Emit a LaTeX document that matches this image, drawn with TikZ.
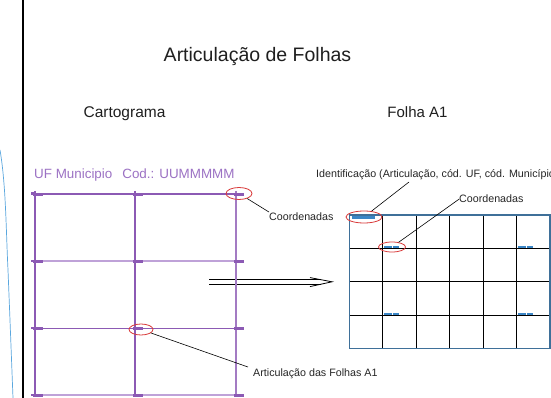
\documentclass[tikz,border=0pt]{standalone}
\usepackage{fontspec}
\setmainfont{Liberation Sans}
\usetikzlibrary{shapes.geometric}
\definecolor{purp}{HTML}{8C5AB4}
\definecolor{lpurp}{HTML}{BFA2D8}
\definecolor{ptext}{HTML}{9C72C4}
\definecolor{fblue}{HTML}{3F7099}
\definecolor{mblue}{HTML}{3B86C6}
\definecolor{ered}{HTML}{D93A3A}
\definecolor{curveblue}{HTML}{5AA7DE}
\begin{document}
\begin{tikzpicture}[x=1pt,y=-1pt,
  lbl/.style={inner sep=0pt, anchor=base west, font=\fontsize{10.7}{12}\selectfont, text=black!85},
  head/.style={inner sep=0pt, anchor=base, text=black!88},
  ring/.style={draw=ered, ellipse, line width=0.8pt, inner sep=0pt},
  leader/.style={draw=black, line width=0.6pt},
  pmark/.style={fill=purp},
  bmark/.style={fill=mblue},
  inner/.style={draw=black, line width=1pt}]
\useasboundingbox (0,0) rectangle (551,398);
\fill[white] (0,0) rectangle (551,398);
% left decorations
\draw[curveblue, line width=0.7pt] (0,150) .. controls (6,185) and (6,230) .. (8,270) .. controls (10,320) .. (13,398);
\draw[line width=1.3pt] (23,0) -- (23,398);
% headings
\node[head, font=\fontsize{19.5}{22}\selectfont] (title) at (257.5,61.7) {Articulação de Folhas};
\node[head, font=\fontsize{15.5}{18}\selectfont] (carto) at (124.5,117.3) {Cartograma};
\node[head, font=\fontsize{15}{18}\selectfont] (folha) at (417.5,117.3) {Folha A1};
\node[inner sep=0pt, anchor=base west, font=\fontsize{13.4}{16}\selectfont, text=ptext] (uf) at (34,178.3) {UF Municipio\hspace{10pt}Cod.: UUMMMMM};
% double arrow
\coordinate (a1s) at (209,279.6);
\coordinate (a1e) at (320.5,279.6);
\coordinate (a2s) at (209,283.9);
\coordinate (a2e) at (320.5,283.9);
\coordinate (bU) at (310,277.6);
\coordinate (tip) at (332,281.8);
\coordinate (bL) at (310,286.6);
\draw[line width=0.8pt] (a1s) -- (a1e);
\draw[line width=0.8pt] (a2s) -- (a2e);
\draw[line width=0.8pt] (bU) -- (tip) -- (bL);
% cartograma grid
\draw[purp, line width=1.2pt] (35,191) -- (35,397);
\draw[purp, line width=1.2pt] (135,191) -- (135,397);
\draw[purp!80, line width=1.2pt] (236,191) -- (236,397);
\draw[purp, line width=1.2pt] (32,194) -- (241,194);
\draw[lpurp, line width=2pt] (32,261) -- (241,261);
\draw[purp, line width=1pt] (32,328) -- (241,328);
\draw[lpurp, line width=2pt] (32,395) -- (241,395);
\foreach \x in {35,135,236} {
  \foreach \y in {194,261,328,395} {
    \fill[purp] (\x-2,\y-1) rectangle (\x+8,\y+2);
  }
}
\foreach \y in {194,261,328,395} { \fill[purp] (31,\y-1.5) rectangle (36,\y+1); }
% folha A1 grid
\foreach \x in {382.8,416.2,449.7,483.1,516.6} { \draw[inner] (\x,215) -- (\x,348.3); }
\foreach \y in {248.3,281.7,315} { \draw[inner] (349.3,\y) -- (550,\y); }
\draw[fblue, line width=1.6pt] (349.3,215) rectangle (550,348.3);
\fill[bmark] (352,216) rectangle (375,218.6);
\foreach \x/\y in {384/245.5, 518/245.5, 384/312.5, 518/312.5} {
  \fill[bmark] (\x,\y) rectangle (\x+7.5,\y+2);
  \fill[bmark] (\x+8.5,\y) rectangle (\x+15,\y+2);
}
% annotations
\node[ring, minimum width=26pt, minimum height=12pt] (e1) at (239,193.5) {};
\node[lbl] (coordL) at (269,220) {Coordenadas};
\draw[leader] (e1) -- (coordL.north west);
\node[ring, minimum width=24pt, minimum height=11pt] (e2) at (141,329.5) {};
\node[lbl] (artic) at (253,376) {Articulação das Folhas A1};
\coordinate (articEnd) at (248,367);
\draw[leader] (e2) -- (articEnd);
\node[ring, minimum width=36pt, minimum height=12pt] (e3) at (364,217) {};
\node[lbl] (ident) at (316,178) {Identificação (Articulação, cód. UF, cód. Município)};
\coordinate (identEnd) at (409,182);
\draw[leader] (e3) -- (identEnd);
\node[ring, minimum width=27pt, minimum height=10pt] (e4) at (392,247) {};
\node[lbl] (coordR) at (459,203) {Coordenadas};
\draw[leader] (e4) -- (coordR.west);
\end{tikzpicture}
\end{document}
